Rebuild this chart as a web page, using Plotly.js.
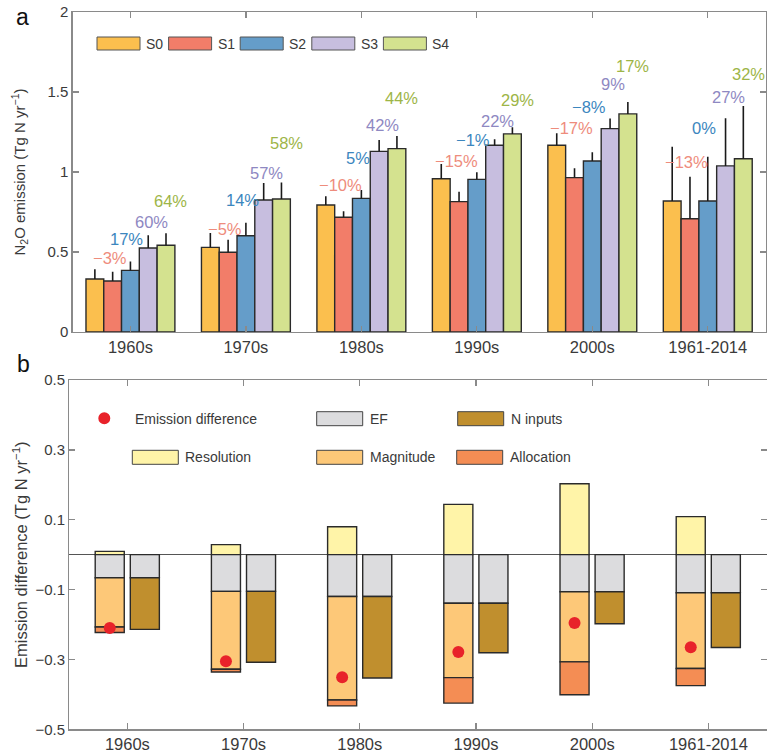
<!DOCTYPE html>
<html>
<head>
<meta charset="utf-8">
<script src="https://cdn.plot.ly/plotly-3.0.1.min.js"></script>
<style>html,body{margin:0;padding:0;background:#fff;}#chart{width:767px;height:755px;}</style>
</head>
<body>
<div id="chart"></div>
<script>
// ---------- DATA ----------
const categories = ['1960s', '1970s', '1980s', '1990s', '2000s', '1961-2014'];
const seriesNames = ['S0', 'S1', 'S2', 'S3', 'S4'];

// Panel a: N2O emission (Tg N yr-1)
const S0 = [0.331, 0.529, 0.794, 0.958, 1.167, 0.819];
const S1 = [0.319, 0.498, 0.717, 0.815, 0.965, 0.708];
const S2 = [0.385, 0.602, 0.835, 0.954, 1.069, 0.819];
const S3 = [0.525, 0.825, 1.129, 1.167, 1.271, 1.038];
const S4 = [0.542, 0.831, 1.146, 1.238, 1.363, 1.083];
// upper error bar lengths
const S0_err = [0.061, 0.090, 0.054, 0.092, 0.075, 0.339];
const S1_err = [0.058, 0.079, 0.037, 0.062, 0.058, 0.263];
const S2_err = [0.055, 0.081, 0.053, 0.044, 0.054, 0.277];
const S3_err = [0.079, 0.106, 0.071, 0.037, 0.064, 0.298];
const S4_err = [0.075, 0.104, 0.079, 0.042, 0.075, 0.330];
// percent change labels relative to S0
const S1_pct = ['\u22123%', '\u22125%', '\u221210%', '\u221215%', '\u221217%', '\u221213%'];
const S2_pct = ['17%', '14%', '5%', '\u22121%', '\u22128%', '0%'];
const S3_pct = ['60%', '57%', '42%', '22%', '9%', '27%'];
const S4_pct = ['64%', '58%', '44%', '29%', '17%', '32%'];

// Panel b: emission difference (Tg N yr-1)
const resolution = [0.0095, 0.0286, 0.080, 0.144, 0.203, 0.109];
const ef = [-0.066, -0.105, -0.120, -0.139, -0.106, -0.109];
const magnitude = [-0.141, -0.223, -0.296, -0.213, -0.201, -0.217];
const allocation = [-0.016, -0.008, -0.017, -0.073, -0.094, -0.049];
const nInputs = [-0.148, -0.203, -0.233, -0.142, -0.092, -0.157];
const emissionDiff = [-0.210, -0.305, -0.351, -0.279, -0.196, -0.265];

// ---------- STYLE / LAYOUT ----------
const W = 767, H = 755;
const px = v => v / W;
const py = v => 1 - v / H;

const barColors = ['#FBBF4E', '#F27D69', '#659DC9', '#C7BEDF', '#D4E28F'];
const labelColors = [null, '#EE8C7C', '#3B86BE', '#8E88C2', '#9DB547'];
const cRes = '#FFF4A8', cEF = '#DCDCDE', cMag = '#FDC878', cAll = '#F48D54', cN = '#C08F2E', cDot = '#E8222A';
const outline = {color: '#2a2a2a', width: 1.4};
const axisColor = '#8a8a8a';
const textColor = '#3a3a3a';
const FONT = 'Liberation Sans, Arial, sans-serif';

const idx = categories.map((c, i) => i);
const barW = 0.154;
const values = [S0, S1, S2, S3, S4];
const errs = [S0_err, S1_err, S2_err, S3_err, S4_err];
const pcts = [null, S1_pct, S2_pct, S3_pct, S4_pct];
// label heights (data units, panel a) and horizontal offsets per series
const labelY = [null,
  [0.46, 0.642, 0.919, 1.071, 1.273, 1.06],
  [0.581, 0.825, 1.085, 1.2, 1.404, 1.273],
  [0.689, 0.996, 1.294, 1.319, 1.548, 1.467],
  [0.82, 1.179, 1.46, 1.45, 1.665, 1.6125]];
const labelDx = [null, -0.18, -0.03, 0.18, 0.35];

const traces = [];
values.forEach((vals, k) => {
  traces.push({
    type: 'bar', name: seriesNames[k], xaxis: 'x', yaxis: 'y',
    x: idx.map(i => i + (k - 2) * barW), y: vals, width: barW,
    marker: {color: barColors[k], line: outline},
    error_y: {type: 'data', symmetric: false, array: errs[k], arrayminus: vals.map(() => 0),
              color: '#1a1a1a', thickness: 1.6, width: 0},
    showlegend: false, hoverinfo: 'skip'
  });
});

const leftX = idx.map(i => i - 0.152);
const rightX = idx.map(i => i + 0.15);
const bW = 0.25;
function stackBar(x, y, color) {
  return {type: 'bar', xaxis: 'x2', yaxis: 'y2', x: x, y: y, width: bW,
          marker: {color: color, line: outline}, showlegend: false, hoverinfo: 'skip'};
}
traces.push(stackBar(leftX, resolution, cRes));
traces.push(stackBar(leftX, ef, cEF));
traces.push(stackBar(leftX, magnitude, cMag));
traces.push(stackBar(leftX, allocation, cAll));
traces.push(stackBar(rightX, ef, cEF));
traces.push(stackBar(rightX, nInputs, cN));
traces.push({type: 'scatter', mode: 'markers', xaxis: 'x2', yaxis: 'y2', x: leftX, y: emissionDiff,
             marker: {color: cDot, size: 12}, showlegend: false, hoverinfo: 'skip'});

const annotations = [];
const shapes = [];
for (let k = 1; k < 5; k++) {
  pcts[k].forEach((t, i) => {
    annotations.push({xref: 'x', yref: 'y', x: i + labelDx[k], y: labelY[k][i], text: t,
      showarrow: false, font: {size: 16.5, color: labelColors[k], family: FONT}, xanchor: 'center', yanchor: 'middle'});
  });
}
// panel a legend
seriesNames.forEach((n, k) => {
  const x0 = 97 + k * 71.6;
  shapes.push({type: 'rect', xref: 'paper', yref: 'paper', x0: px(x0), x1: px(x0 + 43), y0: py(50), y1: py(37),
               fillcolor: barColors[k], line: {color: '#555', width: 1}});
  annotations.push({xref: 'paper', yref: 'paper', x: px(x0 + 47), y: py(43.5), text: n, showarrow: false,
                    xanchor: 'left', yanchor: 'middle', font: {size: 14, color: textColor, family: FONT}});
});
// panel b legend
shapes.push({type: 'circle', xref: 'paper', yref: 'paper', x0: px(98.3), x1: px(110.3), y0: py(424.3), y1: py(412.3),
             fillcolor: cDot, line: {width: 0}});
annotations.push({xref: 'paper', yref: 'paper', x: px(133), y: py(419), text: 'Emission difference', showarrow: false,
                  xanchor: 'left', yanchor: 'middle', font: {size: 14, color: textColor, family: FONT}});
const legB = [
  {x: 316.7, y: 411.7, c: cEF, t: 'EF'},
  {x: 457.7, y: 411.7, c: cN, t: 'N inputs'},
  {x: 132.3, y: 450.3, c: cRes, t: 'Resolution'},
  {x: 316.7, y: 450.3, c: cMag, t: 'Magnitude'},
  {x: 456.7, y: 450.3, c: cAll, t: 'Allocation'}
];
legB.forEach(o => {
  shapes.push({type: 'rect', xref: 'paper', yref: 'paper', x0: px(o.x), x1: px(o.x + 46), y0: py(o.y + 14), y1: py(o.y),
               fillcolor: o.c, line: {color: '#444', width: 1}});
  annotations.push({xref: 'paper', yref: 'paper', x: px(o.x + 51), y: py(o.y + 7), text: o.t, showarrow: false,
                    xanchor: 'left', yanchor: 'middle', font: {size: 14, color: textColor, family: FONT}});
});
// panel letters
annotations.push({xref: 'paper', yref: 'paper', x: px(22), y: py(17), text: 'a', showarrow: false,
                  xanchor: 'center', yanchor: 'middle', font: {size: 23, color: '#111', family: FONT}});
annotations.push({xref: 'paper', yref: 'paper', x: px(23), y: py(364), text: 'b', showarrow: false,
                  xanchor: 'center', yanchor: 'middle', font: {size: 23, color: '#111', family: FONT}});

const commonX = {
  range: [-0.5, 5.5], tickvals: idx, ticktext: categories, ticks: 'inside', ticklen: 6, tickwidth: 1.3,
  tickcolor: axisColor, showline: true, linecolor: axisColor, linewidth: 1.3, mirror: 'ticks',
  showgrid: false, zeroline: false, tickfont: {size: 16.5, color: textColor, family: FONT}, fixedrange: true
};
const layout = {
  width: W, height: H, margin: {l: 0, r: 0, t: 0, b: 0},
  paper_bgcolor: '#fff', plot_bgcolor: '#fff', barmode: 'relative', showlegend: false,
  font: {family: FONT, color: textColor},
  xaxis: Object.assign({}, commonX, {domain: [px(72.7), px(765.5)], anchor: 'y'}),
  yaxis: {domain: [py(332), py(12)], anchor: 'x', range: [0, 2], tickvals: [0, 0.5, 1, 1.5, 2],
          ticktext: ['0', '0.5', '1', '1.5', '2'],
          ticks: 'inside', ticklen: 6, tickwidth: 1.3, tickcolor: axisColor, showline: true, linecolor: axisColor,
          linewidth: 1.3, mirror: 'ticks', showgrid: false, zeroline: false,
          tickfont: {size: 15, color: textColor, family: FONT},
          title: {text: 'N<sub>2</sub>O emission (Tg N yr<sup>\u22121</sup>)', standoff: 18,
                  font: {size: 15, color: textColor, family: FONT}}},
  xaxis2: Object.assign({}, commonX, {domain: [px(69.3), px(766.5)], anchor: 'y2'}),
  yaxis2: {domain: [py(729.3), py(380)], anchor: 'x2', range: [-0.5, 0.5],
           tickvals: [-0.5, -0.3, -0.1, 0.1, 0.3, 0.5],
           ticktext: ['\u22120.5', '\u22120.3', '\u22120.1', '0.1', '0.3', '0.5'],
           ticks: 'inside', ticklen: 6, tickwidth: 1.3, tickcolor: axisColor, showline: true, linecolor: axisColor,
           linewidth: 1.3, mirror: 'ticks', showgrid: false, zeroline: true, zerolinecolor: '#555', zerolinewidth: 1.3,
           tickfont: {size: 15, color: textColor, family: FONT},
           title: {text: 'Emission difference (Tg N yr<sup>\u22121</sup>)', standoff: 3,
                   font: {size: 16.5, color: textColor, family: FONT}}},
  shapes: shapes, annotations: annotations
};

Plotly.newPlot('chart', traces, layout, {staticPlot: true, displayModeBar: false});
</script>
</body>
</html>
